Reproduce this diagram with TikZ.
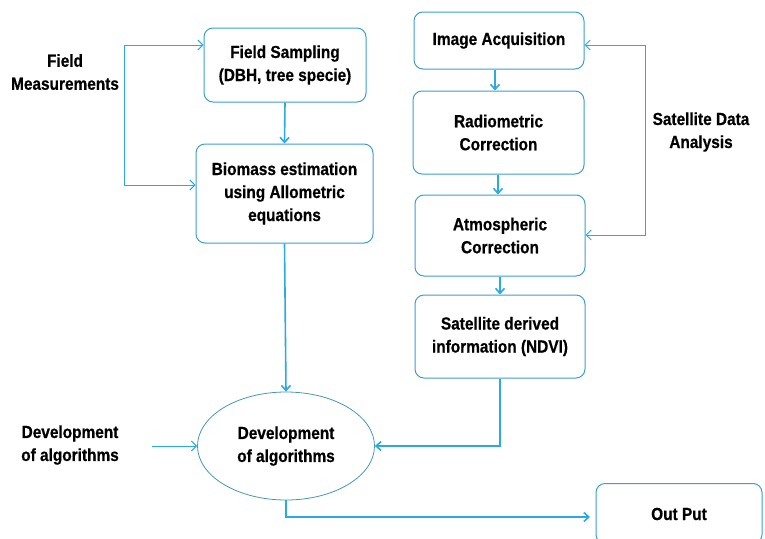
\documentclass[tikz,border=0pt]{standalone}
\usepackage{fontspec}
\setmainfont{Liberation Sans}[FakeStretch=0.88,FakeBold=0.6]
\usetikzlibrary{arrows.meta,shapes.geometric}
\definecolor{lineblue}{RGB}{41,171,226}
\definecolor{boxblue}{RGB}{58,160,205}
\definecolor{ellblue}{RGB}{70,150,180}
\begin{document}
\begin{tikzpicture}[x=1pt,y=-1pt,
  every node/.style={font=\fontsize{17.5}{23}\selectfont\bfseries, align=center, inner sep=0pt},
  stepbox/.style={draw=boxblue, line width=1pt, rounded corners=9pt, minimum width=#1},
  thickline/.style={draw=lineblue, line width=1.6pt, -{Straight Barb[length=5pt,width=9pt]}},
  thinline/.style={draw=lineblue, line width=1pt, -{Straight Barb[length=5pt,width=10pt]}}]
\useasboundingbox (0,0) rectangle (765,538);
% left column
\node[stepbox=162pt, minimum height=74pt] (fs) at (285,65) {Field Sampling\\(DBH, tree specie)};
\node[stepbox=177pt, minimum height=99pt] (bm) at (284.5,193.5) {Biomass estimation\\using Allometric\\equations};
\node (fm) at (65,72) {Field\\Measurements};
% right column
\node[stepbox=170pt, minimum height=57pt] (ia) at (499,40.5) {Image Acquisition};
\node[stepbox=171pt, minimum height=83pt] (rc) at (498.5,132.5) {Radiometric\\Correction};
\node[stepbox=170pt, minimum height=81pt] (ac) at (500,235.5) {Atmospheric\\Correction};
\node[stepbox=170pt, minimum height=83pt] (sd) at (500,336.5) {Satellite derived\\information (NDVI)};
\node (sda) at (701,132) {Satellite Data\\Analysis};
% bottom
\node[draw=ellblue, line width=0.8pt, ellipse, minimum width=177pt, minimum height=108pt] (da) at (286,446) {Development\\of algorithms};
\node (dat) at (70,445) {Development\\of algorithms};
\node[stepbox=166pt, minimum height=60pt, anchor=north] (op) at (679,483) {};
\node at (679,514) {Out Put};
\coordinate (fmtop) at (124,45);
\coordinate (fmbot) at (124,185);
\coordinate (sdatop) at (645,45);
\coordinate (sdabot) at (645,235);
% connectors
\draw[thinline] (fmtop) -- (fmtop -| fs.west);
\draw[thinline] (fmtop) -- (fmbot) -- (fmbot -| bm.west);
\draw[thinline] (sdatop) -- (sdatop -| ia.east);
\draw[thinline] (sdatop) -- (sdabot) -- (sdabot -| ac.east);
\draw[thickline] (fs.south) -- (bm.north);
\draw[thickline] (bm.south) -- (da.north);
\draw[thickline] (ia.south -| 495,0) -- (rc.north -| 495,0);
\draw[thickline] (rc.south -| 498,0) -- (ac.north -| 498,0);
\draw[thickline] (ac.south) -- (sd.south |- sd.north);
\draw[thickline] (sd.south) |- (da.east);
\draw[thinline] (152,446) -- (da.west);
\draw[thickline] (da.south) |- (590,517);
\end{tikzpicture}
\end{document}
